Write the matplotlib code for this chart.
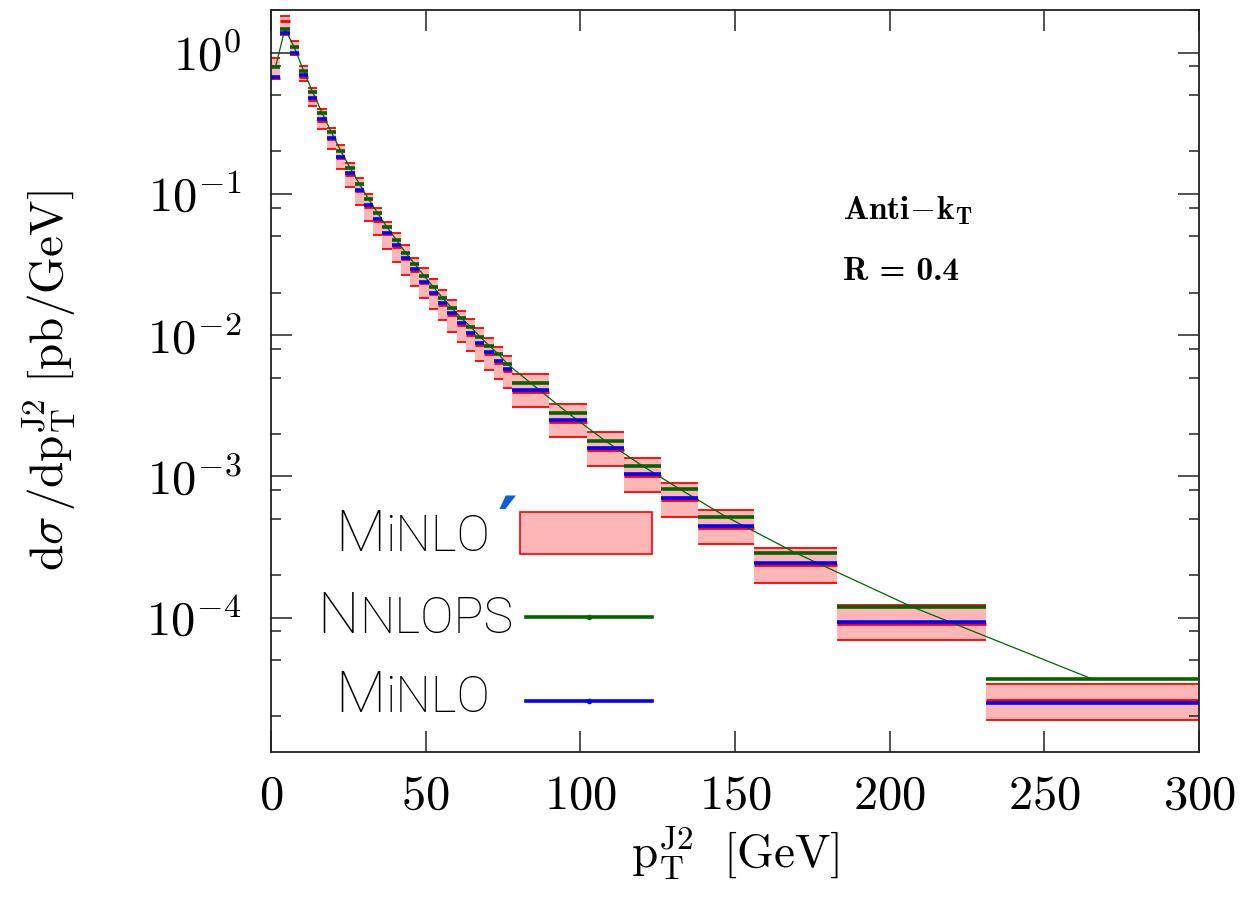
import numpy as np
import matplotlib
matplotlib.use("Agg")
import matplotlib.pyplot as plt
from matplotlib.patches import Rectangle
from matplotlib.ticker import FixedLocator, NullFormatter

plt.rcParams['mathtext.fontset'] = 'cm'
plt.rcParams['font.family'] = 'serif'
plt.rcParams['font.serif'] = ['cmr10']
plt.rcParams['axes.formatter.use_mathtext'] = True

# ---- datos (pT J2, pb/GeV) ----
bin_edges = [0, 3, 6, 9, 12, 15, 18, 21, 24, 27, 30, 33, 36, 39, 42, 45, 48, 51,
             54, 57, 60, 63, 66, 69, 72, 75, 78, 90, 102, 114, 126, 138, 156,
             183, 231, 300]

# MiNLO' banda (arriba / abajo) y central
minlop_hi = [0.922, 1.818, 1.216, 0.809, 0.560, 0.400, 0.292, 0.220, 0.165, 0.129,
             0.100, 0.080, 0.0637, 0.0527, 0.0431, 0.0354, 0.0298, 0.0249, 0.0209,
             0.0176, 0.0149, 0.0130, 0.0112, 0.00952, 0.00823, 0.00706, 0.0053,
             0.00323, 0.00205, 0.00134, 0.000905, 0.00058, 0.000311, 0.000122,
             0.0000339]
minlop_lo = [0.651, 1.328, 0.963, 0.634, 0.420, 0.288, 0.207, 0.150, 0.111, 0.0836,
             0.0647, 0.0513, 0.0406, 0.0329, 0.0267, 0.0221, 0.0183, 0.0153, 0.0127,
             0.0106, 0.00901, 0.00774, 0.00661, 0.00568, 0.00488, 0.00421, 0.00312,
             0.00189, 0.00119, 0.000782, 0.00052, 0.000335, 0.000176, 0.000069,
             0.0000189]
minlop_c = [0.656, 1.66, 0.970, 0.667, 0.462, 0.330, 0.2427, 0.1782, 0.1359, 0.1040,
            0.0811, 0.0642, 0.0516, 0.0418, 0.0343, 0.0284, 0.0232, 0.0194, 0.01634,
            0.01388, 0.01180, 0.01002, 0.00852, 0.00735, 0.00638, 0.00558, 0.00398,
            0.00244, 0.00155, 0.001007, 0.000681, 0.000434, 0.000235, 0.0000903,
            0.0000262]

nnlops = [0.796, 1.472, 1.092, 0.746, 0.523, 0.376, 0.273, 0.2025, 0.1535, 0.1183,
          0.0922, 0.0730, 0.0581, 0.0472, 0.0384, 0.0318, 0.0263, 0.0219, 0.0183,
          0.01553, 0.0132, 0.0115, 0.00977, 0.00844, 0.00734, 0.00623, 0.00457,
          0.00281, 0.00179, 0.00119, 0.000817, 0.00052, 0.000288, 0.00012,
          0.0000368]

minlo = [0.676, 1.385, 1.0, 0.688, 0.476, 0.340, 0.2502, 0.1837, 0.1401, 0.1072,
         0.0836, 0.0662, 0.0532, 0.0431, 0.0354, 0.0293, 0.0239, 0.0200, 0.01685,
         0.01431, 0.01216, 0.01033, 0.00878, 0.00758, 0.00658, 0.00575, 0.0041,
         0.00252, 0.0016, 0.001038, 0.000702, 0.000447, 0.000242, 0.0000931,
         0.0000251]

PINK = '#ffb6b6'
RED = '#ff0000'
GREEN = '#006400'
BLUE = '#0000ff'

edges = np.array(bin_edges, dtype=float)
left = edges[:-1]
right = edges[1:]
width = right - left
centers = 0.5 * (left + right)
hi = np.array(minlop_hi)
lo = np.array(minlop_lo)

fig = plt.figure(figsize=(12.42, 9.11), dpi=100)
ax = fig.add_axes([0.2182, 0.1745, 0.7472, 0.8145])

# banda MiNLO'
ax.bar(left, hi - lo, bottom=lo, width=width, align='edge',
       color=PINK, edgecolor='none', zorder=1)
ax.hlines(hi, left, right, color=RED, lw=1.3, zorder=2)
ax.hlines(lo, left, right, color=RED, lw=1.3, zorder=2)
ax.hlines(minlop_c, left, right, color=RED, lw=2.0, zorder=2)

# linea fina NNLOPS
ax.plot(centers, nnlops, color=GREEN, lw=0.9, zorder=3)

ax.hlines(nnlops, left, right, color=GREEN, lw=2.6, zorder=4)
ax.hlines(minlo, left, right, color=BLUE, lw=2.6, zorder=5)

ax.set_yscale('log')
ax.set_xlim(0, 300)
ax.set_ylim(1.12e-5, 2.0)

ax.xaxis.set_major_locator(FixedLocator([0, 50, 100, 150, 200, 250, 300]))
ax.yaxis.set_major_locator(FixedLocator([1e-4, 1e-3, 1e-2, 1e-1, 1e0]))
minors = [m * 10.0 ** k for k in range(-5, 1) for m in (2, 5, 8)]
ax.yaxis.set_minor_locator(FixedLocator(minors))
ax.yaxis.set_minor_formatter(NullFormatter())
ax.set_yticklabels([r'$10^{-4}$', r'$10^{-3}$', r'$10^{-2}$', r'$10^{-1}$', r'$10^{0}$'])
ax.set_xticklabels([r'$0$', r'$50$', r'$100$', r'$150$', r'$200$', r'$250$', r'$300$'])

ax.tick_params(which='both', direction='in', top=True, right=True,
               labelsize=35, color='#222222')
ax.tick_params(which='major', length=15, width=1.1)
ax.tick_params(which='minor', length=7.5, width=1.1)
ax.tick_params(axis='x', pad=16)
ax.tick_params(axis='y', pad=21)
for sp in ax.spines.values():
    sp.set_linewidth(1.3)
    sp.set_color('#222222')

ax.set_xlabel(r'$\mathrm{p}_\mathrm{T}^\mathrm{J2}\ \ [\mathrm{GeV}]$', fontsize=34, labelpad=4)
ax.set_ylabel(r'$\mathrm{d}\sigma\,/\mathrm{dp}_\mathrm{T}^\mathrm{J2}\ [\mathrm{pb/GeV}]$',
              fontsize=34)
ax.yaxis.set_label_coords(-0.208, 0.5)

ax.text(0.616, 0.730, r'$\mathbf{Anti\!-\!k_T}$', transform=ax.transAxes,
        fontsize=24, ha='left', va='center')
ax.text(0.616, 0.647, 'R = 0.4', transform=ax.transAxes, family='cmb10',
        fontsize=24, ha='left', va='center')

# ---- leyenda manual ----
BIG = 42
SMALL = 36
LFONT = dict(family='Roboto', fontweight='light', color='black')


def two_size(x_right, y_base, first, rest):
    t2 = ax.text(x_right, y_base, rest, transform=ax.transAxes, ha='right',
                 va='baseline', fontsize=SMALL, **LFONT)
    ax.annotate(first, xy=(0, y_base), xycoords=(t2, 'axes fraction'),
                ha='right', va='baseline', fontsize=BIG, **LFONT)
    return t2


two_size(0.236, 0.271, 'M', 'iNLO')
ax.text(0.244, 0.272, '\u2032', transform=ax.transAxes, ha='left', va='baseline',
        fontsize=54, color='#0a5fd8', family='DejaVu Sans', fontweight='bold')
ax.add_patch(Rectangle((0.268, 0.267), 0.143, 0.057, transform=ax.transAxes,
                       facecolor=PINK, edgecolor=RED, lw=1.2, zorder=6))

two_size(0.261, 0.160, 'N', 'NLOPS')
ax.plot([0.275, 0.343, 0.411], [0.182, 0.182, 0.182], transform=ax.transAxes,
        color=GREEN, lw=2.6, marker='o', markersize=3, markevery=[1], zorder=6)

two_size(0.236, 0.054, 'M', 'iNLO')
ax.plot([0.275, 0.343, 0.411], [0.0687, 0.0687, 0.0687], transform=ax.transAxes,
        color=BLUE, lw=2.6, marker='o', markersize=3, markevery=[1], zorder=6)

fig.savefig('out.png', dpi=100)
